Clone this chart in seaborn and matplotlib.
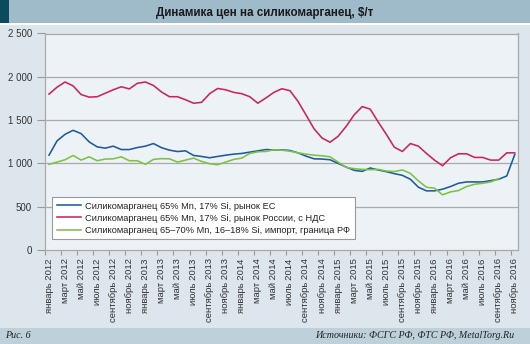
import numpy as np
import pandas as pd
import matplotlib
matplotlib.use("Agg")
import matplotlib.pyplot as plt
from matplotlib.patches import Rectangle
import seaborn as sns

# ---- data ----
months_ru = ["январь", "март", "май", "июль", "сентябрь", "ноябрь"]
years = [2012, 2013, 2014, 2015, 2016]
tick_labels = [f"{m} {y}" for y in years for m in months_ru]

series_names = [
    "Силикомарганец 65% Mn, 17% Si, рынок ЕС",
    "Силикомарганец 65% Mn, 17% Si, рынок России, с НДС",
    "Силикомарганец 65–70% Mn, 16–18% Si, импорт, граница РФ",
]

eu_price = [1095, 1260, 1336, 1382, 1344, 1248, 1191, 1176, 1199, 1160, 1160, 1183, 1199, 1229, 1182,
            1153, 1137, 1145, 1092, 1080, 1065, 1080, 1095, 1107, 1115, 1130, 1145, 1160, 1155,
            1157, 1149, 1122, 1084, 1053, 1050, 1042, 1000, 958, 920, 908, 947, 924, 905, 882,
            862, 817, 725, 683, 683, 702, 733, 771, 786, 786, 786, 801, 817, 855, 1103]

ru_price = [1800, 1880, 1940, 1895, 1795, 1765, 1770, 1810, 1850, 1885, 1860, 1925, 1940, 1900, 1825,
            1770, 1770, 1735, 1695, 1705, 1805, 1865, 1850, 1820, 1805, 1770, 1695, 1755, 1820,
            1862, 1840, 1717, 1560, 1400, 1293, 1244, 1313, 1427, 1561, 1656, 1626, 1477, 1336, 1187,
            1138, 1229, 1199, 1115, 1038, 973, 1065, 1111, 1111, 1069, 1069, 1038, 1038, 1122, 1122]

import_price = [989, 1015, 1042, 1092, 1038, 1076, 1031, 1050, 1053, 1076, 1031, 1031, 989, 1046, 1055,
                1053, 1015, 1038, 1061, 1023, 996, 985, 1015, 1046, 1061, 1115, 1134, 1138, 1158,
                1153, 1141, 1122, 1107, 1095, 1088, 1076, 1015, 954, 939, 931, 927, 931, 912, 906,
                924, 885, 798, 725, 714, 637, 671, 687, 733, 759, 771, 786, 824, np.nan, np.nan]

y_ticks = [0, 500, 1000, 1500, 2000, 2500]
y_tick_labels = ["0", "500", "1 000", "1 500", "2 000", "2 500"]

colors = ["#1d5b9c", "#c8255b", "#7cc243"]

# ---- figure ----
W, H = 530, 344
fig = plt.figure(figsize=(W / 100, H / 100), dpi=100)
body_bg = "#dde6ec"
fig.patch.set_facecolor(body_bg)

def px_rect(x0, y0, x1, y1, color):
    fig.patches.append(Rectangle((x0 / W, 1 - y1 / H), (x1 - x0) / W, (y1 - y0) / H,
                                 transform=fig.transFigure, facecolor=color,
                                 edgecolor="none", zorder=0))

px_rect(0, 0, W, 23, "#9fbbca")
px_rect(0, 0, 9, 23, "#0c4a5e")
px_rect(0, 23, W, 25, "#ffffff")
px_rect(0, 328, W, H, "#bed0da")

fig.text(265 / W, 1 - 13 / H, "Динамика цен на силикомарганец, $/т",
         ha="center", va="center", fontsize=8.4, fontweight="bold",
         family=["Liberation Sans", "DejaVu Sans"], color="#1a1a1a")
fig.text(5 / W, 1 - 336 / H, "Рис. 6", ha="left", va="center", fontsize=7.2,
         style="italic", family=["Liberation Serif", "DejaVu Serif"], color="#222222")
fig.text(514 / W, 1 - 336 / H, "Источники: ФСГС РФ, ФТС РФ, MetalTorg.Ru", ha="right",
         va="center", fontsize=7.2, style="italic",
         family=["Liberation Serif", "DejaVu Serif"], color="#222222")

left, right, top, bottom = 45, 518, 33.5, 250
ax = fig.add_axes([left / W, 1 - bottom / H, (right - left) / W, (bottom - top) / H])
ax.set_facecolor("#edf2f6")

x = np.arange(len(eu_price))
for name, vals, c in zip(series_names, [eu_price, ru_price, import_price], colors):
    df = pd.DataFrame({"x": x, "y": vals}).dropna()
    sns.lineplot(data=df, x="x", y="y", ax=ax, color=c, linewidth=1.15, label=name)

ax.set_xlim(-0.5, 58.4)
ax.set_ylim(0, 2500)
ax.set_xlabel("")
ax.set_ylabel("")

ax.set_yticks(y_ticks)
ax.set_yticklabels(y_tick_labels)
ax.tick_params(axis="y", length=5.8, width=0.8, color="#9a9a9a", pad=3.5,
               labelsize=7, labelcolor="#333333")
for t in ax.get_yticklabels():
    t.set_family(["Liberation Sans", "DejaVu Sans"])

ax.set_xticks(np.arange(0, 59, 2))
ax.set_xticklabels(tick_labels, rotation=90, va="top", ha="center")
ax.set_xticks(np.arange(0, 59, 2) - 0.5, minor=True)
ax.tick_params(axis="x", which="major", length=0, pad=6, labelsize=6.8, labelcolor="#333333")
ax.tick_params(axis="x", which="minor", length=3.5, width=0.8, color="#9a9a9a")
for t in ax.get_xticklabels():
    t.set_family(["Liberation Sans", "DejaVu Sans"])

ax.grid(False)
for yv in [500, 1000, 1500, 2000]:
    ax.axhline(yv, color="#aaaaaa", linewidth=0.9, zorder=0.5)
for s in ax.spines.values():
    s.set_color("#aaaaaa")
    s.set_linewidth(0.9)

leg = ax.legend(loc="upper left", bbox_to_anchor=(7 / 473, 53 / 216.5), borderaxespad=0,
                frameon=True, fancybox=False, framealpha=1, edgecolor="#9a9a9a",
                facecolor="white", handlelength=2.6, handletextpad=0.45,
                borderpad=0.5, labelspacing=0.33,
                prop={"family": ["Liberation Sans", "DejaVu Sans"], "size": 6.7})
leg.get_frame().set_linewidth(0.8)
for t in leg.get_texts():
    t.set_color("#222222")

fig.savefig("out.png", dpi=100, facecolor=fig.get_facecolor())
